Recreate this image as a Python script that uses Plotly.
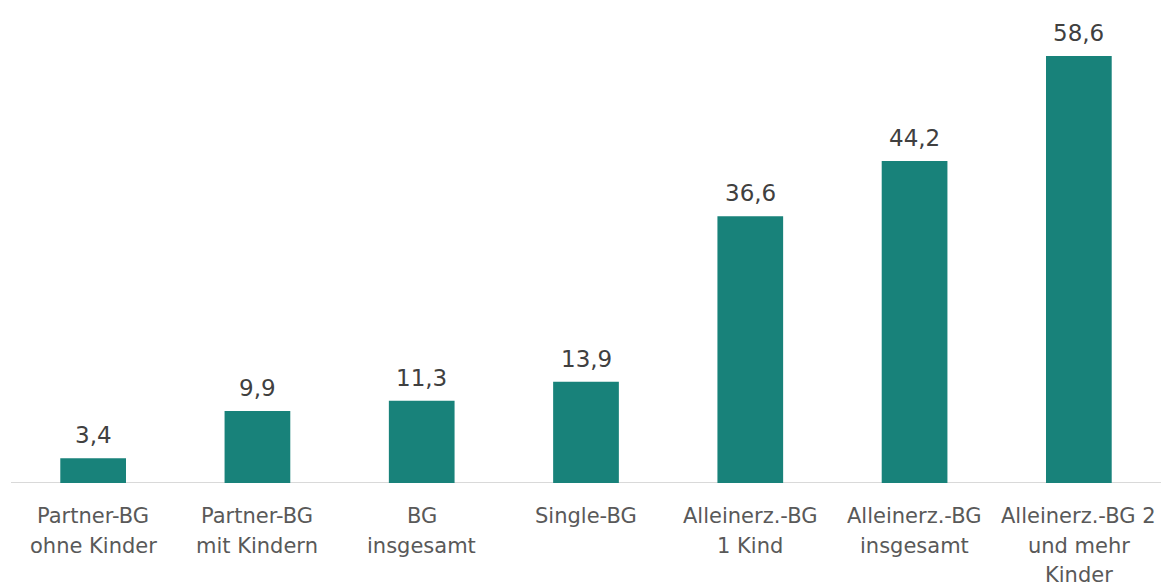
import plotly.graph_objects as go

categories = [
    "Partner-BG<br>ohne Kinder",
    "Partner-BG<br>mit Kindern",
    "BG<br>insgesamt",
    "Single-BG",
    "Alleinerz.-BG<br>1 Kind",
    "Alleinerz.-BG<br>insgesamt",
    "Alleinerz.-BG 2<br>und mehr<br>Kinder",
]
values = [3.4, 9.9, 11.3, 13.9, 36.6, 44.2, 58.6]
value_labels = ["3,4", "9,9", "11,3", "13,9", "36,6", "44,2", "58,6"]

BAR_COLOR = "#18827A"
FONT = "DejaVu Sans"

fig = go.Figure(
    go.Bar(
        x=list(range(len(categories))),
        y=values,
        marker=dict(color=BAR_COLOR, line=dict(width=0)),
        hoverinfo="skip",
    )
)

annotations = []
# value labels above each bar
for i, (v, lab) in enumerate(zip(values, value_labels)):
    annotations.append(dict(
        x=i, y=v, xref="x", yref="y", text=lab, showarrow=False,
        yanchor="bottom", yshift=8,
        font=dict(family=FONT, size=23, color="#404040"),
    ))
# category labels below the axis, one line at a time
for i, cat in enumerate(categories):
    for j, line in enumerate(cat.split("<br>")):
        annotations.append(dict(
            x=i, y=0, xref="x", yref="y", text=line, showarrow=False,
            yanchor="middle", yshift=-33 - 29.5 * j,
            font=dict(family=FONT, size=21, color="#595959"),
        ))

fig.update_layout(
    width=1161, height=583,
    margin=dict(l=11, r=0, t=0, b=100),
    paper_bgcolor="white", plot_bgcolor="white",
    bargap=0.6,
    showlegend=False,
    annotations=annotations,
    xaxis=dict(
        range=[-0.5, len(categories) - 0.5],
        showticklabels=False, showgrid=False, zeroline=False,
        showline=False, ticks="",
    ),
    yaxis=dict(
        range=[0, 66.3], visible=False, showgrid=False, zeroline=True,
    ),
    shapes=[dict(
        type="line", xref="paper", yref="y", x0=0, x1=1, y0=0, y1=0,
        line=dict(color="#D9D9D9", width=2), layer="below",
    )],
)

fig.write_html("out.html")
